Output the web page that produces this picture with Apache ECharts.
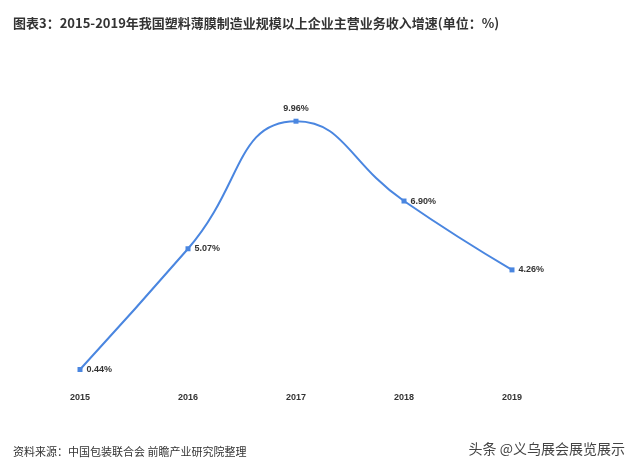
<!DOCTYPE html>
<html><head><meta charset="utf-8">
<script src="https://cdn.jsdelivr.net/npm/echarts@6/dist/echarts.min.js"></script>
<style>html,body{margin:0;padding:0;background:#fff}#c{width:640px;height:470px}</style>
</head><body><div id="c"></div>
<script>
const categories=['2015','2016','2017','2018','2019'];
const values=[0.44,5.07,9.96,6.90,4.26];
const titleText='图表3：2015-2019年我国塑料薄膜制造业规模以上企业主营业务收入增速(单位：%)';
const sourceText='资料来源：中国包装联合会 前瞻产业研究院整理';
const chart=echarts.init(document.getElementById('c'));
chart.setOption({
  backgroundColor:'#fff',
  title:[{text:titleText,left:8,top:12,textStyle:{fontSize:13,fontWeight:'bold',color:'#333',fontFamily:'Noto Sans CJK SC'}},
    {text:sourceText,left:8,top:441,textStyle:{fontSize:11,fontWeight:'normal',color:'#333',fontFamily:'Noto Sans CJK SC'}},
    {text:'头条 @义乌展会展览展示',right:10,top:437,textStyle:{fontSize:14,fontWeight:'normal',color:'#444',fontFamily:'Noto Sans CJK SC'}}],
  grid:{left:26,right:74,top:68,bottom:89},
  xAxis:{type:'category',data:categories,boundaryGap:true,
    axisLine:{show:false},axisTick:{show:false},
    axisLabel:{margin:12,fontSize:9,fontWeight:'bold',color:'#333'}},
  yAxis:{type:'value',min:0,max:12,show:false,splitLine:{show:false}},
  series:[{type:'line',smooth:0.5,symbol:'rect',symbolSize:5,
    data:values.map((v,i)=>i===2?{value:v,label:{position:'top',distance:6}}:v),
    lineStyle:{color:'#4a86e0',width:2},itemStyle:{color:'#4a86e0'},
    label:{show:true,position:'right',distance:4,fontSize:9,fontWeight:'bold',color:'#333',formatter:p=>p.value.toFixed(2)+'%'}}]
});
</script></body></html>
